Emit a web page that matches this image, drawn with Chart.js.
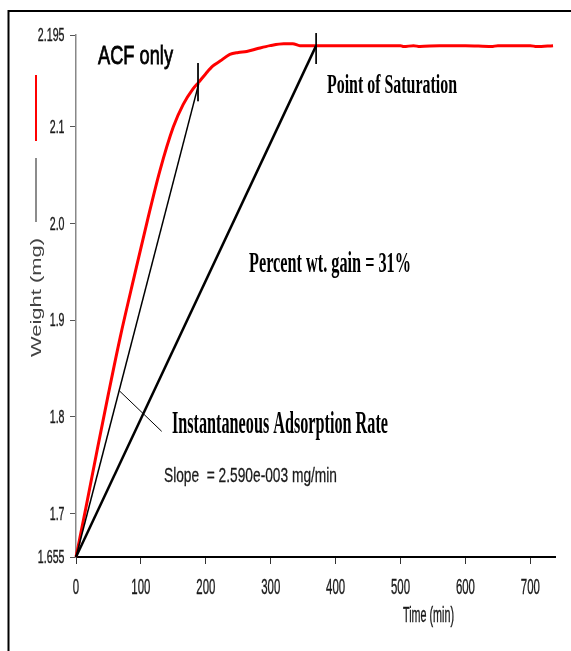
<!DOCTYPE html>
<html>
<head>
<meta charset="utf-8">
<script src="https://cdn.jsdelivr.net/npm/chart.js@4/dist/chart.umd.min.js"></script>
<style>
  html, body { margin: 0; padding: 0; background: #fff; overflow: hidden; }
  canvas { display: block; }
</style>
</head>
<body>
<canvas id="c" width="571" height="651"></canvas>
<script>
// ---- Data ----
const timeMin   = [0, 15, 33, 50, 68, 90, 110, 129, 150, 165, 180, 189, 200, 211, 222, 237, 250, 263, 280, 299, 320, 334, 345, 400, 450, 500, 505, 520, 530, 560, 600, 640, 650, 700, 710, 735];
const weightMg  = [1.655, 1.705, 1.767, 1.824, 1.882, 1.946, 2.003, 2.054, 2.100, 2.123, 2.139, 2.146, 2.155, 2.163, 2.168, 2.175, 2.177, 2.178, 2.181, 2.184, 2.186, 2.186, 2.184, 2.184, 2.184, 2.184, 2.183, 2.184, 2.183, 2.184, 2.184, 2.183, 2.184, 2.184, 2.183, 2.184];

const tangentTime   = [0, 189];
const tangentWeight = [1.655, 2.1445];
const saturationTime   = [0, 370];
const saturationWeight = [1.655, 2.184];
const tangentMarkTime   = [188, 188];
const tangentMarkWeight = [2.166, 2.1265];
const saturationMarkTime   = [370, 370];
const saturationMarkWeight = [2.197, 2.165];
const leaderTime   = [66.7, 132];
const leaderWeight = [1.827, 1.785];

const xTickValues = [0, 100, 200, 300, 400, 500, 600, 700];
const xTickLabels = ['0', '100', '200', '300', '400', '500', '600', '700'];
const yTickValues = [1.655, 1.7, 1.8, 1.9, 2.0, 2.1, 2.195];
const yTickLabels = ['1.655', '1.7', '1.8', '1.9', '2.0', '2.1', '2.195'];

const xMin = 0, xMax = 738, yMin = 1.655, yMax = 2.195;

function pts(xs, ys) { return xs.map((x, i) => ({ x: x, y: ys[i] })); }

const SANS = '"Liberation Sans", Arial, sans-serif';
const SERIF = '"Liberation Serif", "Times New Roman", serif';

function paint(ctx, txt, color, sw) {
  ctx.fillStyle = color;
  ctx.fillText(txt, 0, 0);
  if (sw) { ctx.strokeStyle = color; ctx.lineWidth = sw; ctx.strokeText(txt, 0, 0); }
}
function fitText(ctx, txt, x, y, font, w, color, sw) {
  ctx.save();
  ctx.font = font;
  const m = ctx.measureText(txt).width;
  ctx.translate(x, y);
  ctx.scale(w / m, 1);
  ctx.textAlign = 'left';
  ctx.textBaseline = 'alphabetic';
  paint(ctx, txt, color, sw);
  ctx.restore();
}
function scaledText(ctx, txt, x, y, font, sx, align, baseline, color, sw) {
  ctx.save();
  ctx.font = font;
  ctx.translate(x, y);
  ctx.scale(sx, 1);
  ctx.textAlign = align;
  ctx.textBaseline = baseline;
  paint(ctx, txt, color, sw);
  ctx.restore();
}

const decor = {
  id: 'decor',
  beforeDraw(chart) {
    const ctx = chart.ctx;
    ctx.save();
    ctx.fillStyle = '#fff';
    ctx.fillRect(0, 0, chart.width, chart.height);
    ctx.strokeStyle = '#000';
    ctx.lineWidth = 2;
    ctx.beginPath();
    ctx.moveTo(8.5, 651);
    ctx.lineTo(8.5, 11);
    ctx.lineTo(571, 11);
    ctx.stroke();
    ctx.restore();
  },
  afterDraw(chart) {
    const ctx = chart.ctx;
    const xs = chart.scales.x, ys = chart.scales.y;
    // tick labels
    xTickValues.forEach((v, i) => {
      scaledText(ctx, xTickLabels[i], xs.getPixelForValue(v), 594, '22px ' + SANS, 0.52, 'center', 'alphabetic', '#1a1a1a', 0.4);
    });
    yTickValues.forEach((v, i) => {
      scaledText(ctx, yTickLabels[i], 64.5, ys.getPixelForValue(v) + 1, '19px ' + SANS, 0.56, 'right', 'middle', '#1a1a1a', 0.4);
    });
    // axis titles
    fitText(ctx, 'Time (min)', 403, 622, '22px ' + SANS, 51, '#1a1a1a', 0.4);
    ctx.save();
    ctx.translate(41, 357);
    ctx.rotate(-Math.PI / 2);
    ctx.font = '22px ' + SANS;
    const mw = ctx.measureText('Weight (mg)').width;
    ctx.scale(119 / mw, 0.64);
    ctx.textBaseline = 'alphabetic';
    paint(ctx, 'Weight (mg)', '#444', 0);
    ctx.restore();
    // legend-like samples next to the y title
    ctx.save();
    ctx.strokeStyle = '#ff0000';
    ctx.lineWidth = 2;
    ctx.beginPath(); ctx.moveTo(36, 75); ctx.lineTo(36, 141); ctx.stroke();
    ctx.strokeStyle = '#666';
    ctx.lineWidth = 1.5;
    ctx.beginPath(); ctx.moveTo(36, 158); ctx.lineTo(36, 222); ctx.stroke();
    ctx.restore();
    // annotations
    fitText(ctx, 'ACF only', 98, 64, '26px ' + SANS, 75, '#000', 0.8);
    fitText(ctx, 'Point of Saturation', 327, 92.5, 'bold 28px ' + SERIF, 130, '#000', 0);
    fitText(ctx, 'Percent wt. gain = 31%', 249, 272, 'bold 30px ' + SERIF, 162, '#000', 0);
    fitText(ctx, 'Instantaneous Adsorption Rate', 172, 433, 'bold 31px ' + SERIF, 216, '#000', 0);
    fitText(ctx, 'Slope  = 2.590e-003 mg/min', 164, 482, '21px ' + SANS, 173, '#1a1a1a', 0.3);
  }
};

const thin = { pointRadius: 0, fill: false, tension: 0, clip: false };

new Chart(document.getElementById('c'), {
  type: 'line',
  data: {
    datasets: [
      Object.assign({ data: pts(tangentTime, tangentWeight), borderColor: '#000', borderWidth: 1.5 }, thin),
      Object.assign({ data: pts(saturationTime, saturationWeight), borderColor: '#000', borderWidth: 2.5 }, thin),
      Object.assign({ data: pts(tangentMarkTime, tangentMarkWeight), borderColor: '#000', borderWidth: 1 }, thin),
      Object.assign({ data: pts(saturationMarkTime, saturationMarkWeight), borderColor: '#000', borderWidth: 1 }, thin),
      Object.assign({ data: pts(leaderTime, leaderWeight), borderColor: '#000', borderWidth: 1 }, thin),
      { data: pts(timeMin, weightMg), borderColor: '#ff0000', borderWidth: 3, pointRadius: 0, fill: false,
        cubicInterpolationMode: 'monotone', clip: false }
    ]
  },
  options: {
    responsive: false,
    animation: false,
    devicePixelRatio: 1,
    layout: { padding: { left: 70, right: 16, top: 35, bottom: 87 } },
    plugins: { legend: { display: false }, tooltip: { enabled: false } },
    scales: {
      x: {
        type: 'linear', min: xMin, max: xMax,
        afterBuildTicks: s => { s.ticks = xTickValues.map(v => ({ value: v })); },
        afterFit: s => { s.height = 7; },
        ticks: { display: false },
        grid: { drawOnChartArea: false, drawTicks: true, tickLength: 7, color: '#333', lineWidth: 1 },
        border: { display: true, color: '#000', width: 2 }
      },
      y: {
        type: 'linear', min: yMin, max: yMax,
        afterBuildTicks: s => { s.ticks = yTickValues.map(v => ({ value: v })); },
        afterFit: s => { s.width = 6; },
        ticks: { display: false },
        grid: { drawOnChartArea: false, drawTicks: true, tickLength: 6, color: '#555', lineWidth: 1 },
        border: { display: true, color: '#888', width: 1.5 }
      }
    }
  },
  plugins: [decor]
});
</script>
</body>
</html>
